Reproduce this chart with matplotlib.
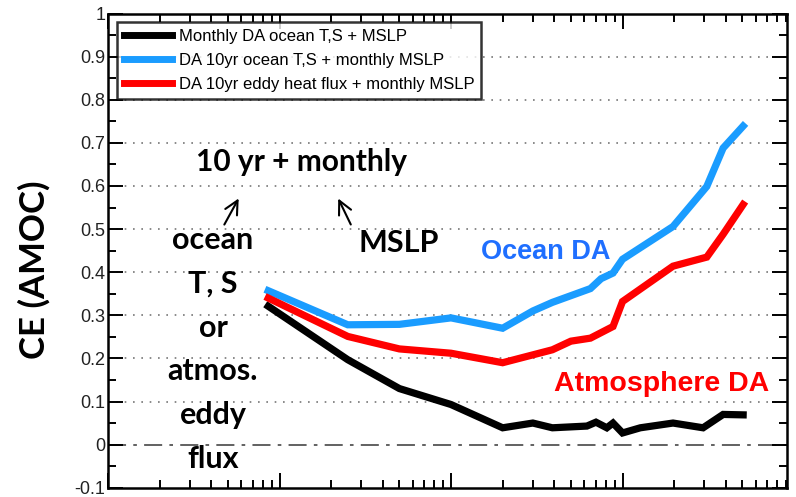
import numpy as np
import matplotlib
matplotlib.use('Agg')
import matplotlib.pyplot as plt
from matplotlib.ticker import LogLocator, NullFormatter, MultipleLocator

# data (x is on a log axis, labels not shown)
x_black = [8.6, 25, 50, 100, 200, 300, 390, 620, 700, 810, 880, 1000, 1270, 1970, 2950, 3860, 5050]
y_black = [0.321, 0.197, 0.13, 0.093, 0.039, 0.05, 0.039, 0.043, 0.052, 0.039, 0.05, 0.027,
           0.039, 0.05, 0.039, 0.07, 0.069]

x_blue = [8.6, 25, 50, 100, 200, 300, 390, 650, 750, 880, 1000, 1970, 3100, 3860, 5050]
y_blue = [0.357, 0.278, 0.279, 0.294, 0.27, 0.31, 0.33, 0.362, 0.385, 0.398, 0.43, 0.506,
          0.599, 0.688, 0.739]

x_red = [8.6, 25, 50, 100, 200, 390, 500, 650, 880, 1000, 1970, 3100, 3860, 5050]
y_red = [0.34, 0.251, 0.222, 0.212, 0.19, 0.22, 0.24, 0.247, 0.274, 0.332, 0.414, 0.435,
         0.488, 0.557]

labels = ['Monthly DA ocean T,S + MSLP',
          'DA 10yr ocean T,S + monthly MSLP',
          'DA 10yr eddy heat flux + monthly MSLP']
colors = ['black', '#1a9cff', '#ff0000']

W, H = 796, 497
L, R, T, B = 108, 787, 13.6, 487.7


def ax_frac(px, py):
    # image pixel -> axes fraction
    return (px - L) / (R - L), (B - py) / (B - T)


fig = plt.figure(figsize=(W / 100, H / 100), dpi=100)
ax = fig.add_axes([L / W, 1 - B / H, (R - L) / W, (B - T) / H])

for xs, ys, c, lab in zip([x_black, x_blue, x_red], [y_black, y_blue, y_red], colors, labels):
    ax.plot(xs, ys, color=c, lw=5.2, label=lab, solid_joinstyle='miter', zorder=3)

ax.set_xscale('log')
ax.set_xlim(1, 9100)
ax.set_ylim(-0.1, 1.0)

# grid lines
for g in np.arange(0.1, 0.95, 0.1):
    ax.axhline(g, color='#777777', lw=1.2, ls=(0, (1, 4)), zorder=1)
ax.axhline(0, color='#555555', lw=1.3, ls=(0, (10, 4, 2, 4)), zorder=1)

ax.yaxis.set_minor_locator(MultipleLocator(0.05))
ax.set_yticks(np.round(np.arange(-0.1, 1.01, 0.1), 1))
ax.set_yticklabels(['-0.1', '0', '0.1', '0.2', '0.3', '0.4', '0.5', '0.6', '0.7', '0.8', '0.9', '1'],
                   fontfamily='Liberation Sans', fontsize=13, color='#222222')
ax.xaxis.set_major_locator(LogLocator(base=10, numticks=10))
ax.xaxis.set_minor_locator(LogLocator(base=10, subs=np.arange(2, 10), numticks=20))
ax.xaxis.set_major_formatter(NullFormatter())
ax.xaxis.set_minor_formatter(NullFormatter())

ax.tick_params(which='both', direction='in', top=True, right=True, width=1.4, color='black')
ax.tick_params(which='major', length=10.5, pad=2)
ax.tick_params(which='minor', length=5.5)
for s in ax.spines.values():
    s.set_linewidth(1.8)

ax.set_ylabel('CE (AMOC)', fontfamily='Lato', fontweight='bold', fontsize=25)
ax.yaxis.set_label_coords(-0.085, 0.46)

leg = ax.legend(loc='upper left', bbox_to_anchor=ax_frac(117, 22), borderaxespad=0, frameon=True,
                fancybox=False, edgecolor='black', borderpad=0.4, handlelength=2.9,
                handletextpad=0.4, labelspacing=0.55,
                prop={'family': 'Liberation Sans', 'size': 12})
leg.get_frame().set_linewidth(1.8)
for lh in leg.get_lines():
    lh.set_linewidth(5)

tk = dict(fontfamily='Lato', fontweight='bold', color='black', ha='center', va='center',
          transform=ax.transAxes)
ax.text(*ax_frac(302, 162), '10 yr + monthly', fontsize=21.5, **tk)
ax.text(*ax_frac(399, 243), 'MSLP', fontsize=22, **tk)
side = ['ocean', 'T, S', 'or', 'atmos.', 'eddy', 'flux']
for i, w in enumerate(side):
    ax.text(*ax_frac(213, 240 + 43.8 * i), w, fontsize=22, **tk)

ap = dict(arrowstyle='->', lw=1.5, color='black', mutation_scale=24)
ax.annotate('', xy=ax_frac(240, 196), xytext=ax_frac(223, 227), xycoords='axes fraction',
            textcoords='axes fraction', arrowprops=ap)
ax.annotate('', xy=ax_frac(337, 196), xytext=ax_frac(352, 227), xycoords='axes fraction',
            textcoords='axes fraction', arrowprops=ap)

ax.text(*ax_frac(546, 252), 'Ocean DA', fontsize=19.5, fontfamily='Liberation Sans',
        fontweight='bold', color='#1f6fff', ha='center', va='center', transform=ax.transAxes)
ax.text(*ax_frac(662, 384), 'Atmosphere DA', fontsize=20.5, fontfamily='Liberation Sans',
        fontweight='bold', color='#ff0000', ha='center', va='center', transform=ax.transAxes)

fig.savefig('out.png', dpi=100)
